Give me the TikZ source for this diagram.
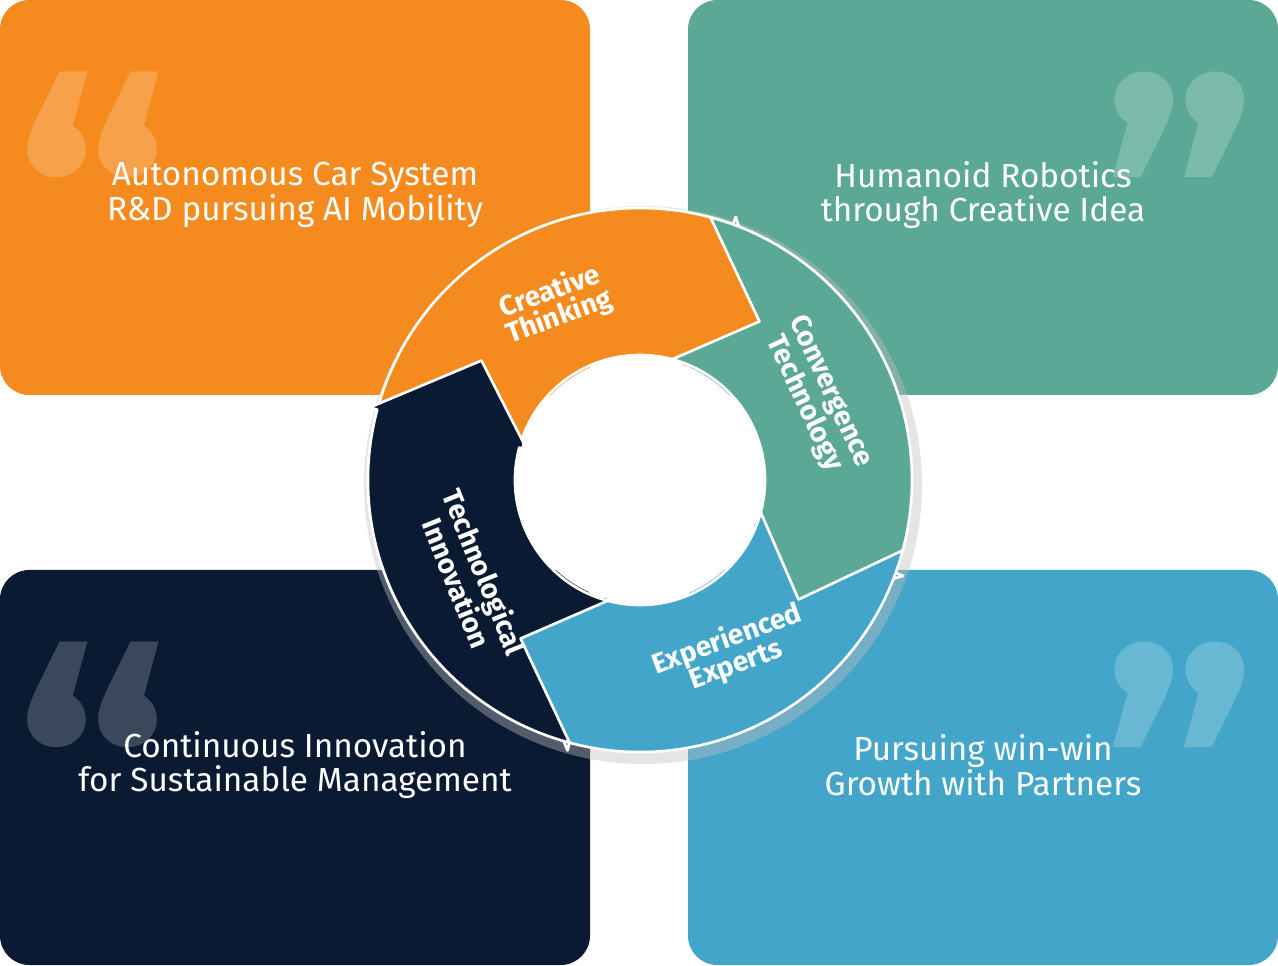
\documentclass[tikz,border=0pt]{standalone}
\usepackage{fontspec}
\setmainfont{Fira Sans}
\definecolor{corange}{HTML}{F58A1F}
\definecolor{cteal}{HTML}{5BA896}
\definecolor{cnavy}{HTML}{0B1A33}
\definecolor{cblue}{HTML}{43A5C9}
\begin{document}
\begin{tikzpicture}[x=0.75pt,y=0.75pt,
  box/.style={rounded corners=22pt},
  boxtext/.style={text=white,align=center,font=\fontsize{25}{26}\selectfont},
  segtext/.style={text=white,align=center,font=\bfseries\fontsize{21}{20}\selectfont},
  quote/.style={text=white,opacity=0.2,font=\bfseries\fontsize{260}{260}\selectfont},
  seg/.style={draw=white,line width=2pt,line join=round}]
\useasboundingbox (0,0) rectangle (1278,965);
\fill[corange,box] (0,570) rectangle (590,965);
\fill[cteal,box] (688,570) rectangle (1278,965);
\fill[cnavy,box] (0,0) rectangle (590,395);
\fill[cblue,box] (688,0) rectangle (1278,395);
\node[quote] (q1) at (92,760) {“};
\node[quote] (q2) at (1180,760) {”};
\node[quote] (q3) at (92,190) {“};
\node[quote] (q4) at (1180,190) {”};
\node[boxtext] (t1) at (295,770) {Autonomous Car System\\R\&D pursuing AI Mobility};
\node[boxtext] (t2) at (983,770) {Humanoid Robotics\\through Creative Idea};
\node[boxtext] (t3) at (295,200) {Continuous Innovation\\for Sustainable Management};
\node[boxtext] (t4) at (983,200) {Pursuing win-win\\Growth with Partners};
\begin{scope}[shift={(640,485)}]
\fill[black!25,opacity=0.4,even odd rule] (3,-5) circle (279) (0,0) circle (126);
\def\R{272}\def\r{125}\def\m{198.5}\def\d{22}
\foreach \T/\H/\col in {185/70/corange,75/-20/cteal,-15/-105/cblue,-105/-195/cnavy}{
  \pgfmathsetmacro{\Tn}{\T-\d}\pgfmathsetmacro{\Hn}{\H-\d}
  \filldraw[seg,fill=\col] (\T:\R) arc[start angle=\T,end angle=\H,radius=\R]
    -- (\H:\R+8) -- (\Hn:\m) -- (\H:\r-8) -- (\H:\r)
    arc[start angle=\H,end angle=\T,radius=\r] -- (\Tn:\m) -- cycle;
}
\fill[white] (0,0) circle (123);
\node[segtext,rotate=20] (s1) at (116:195) {Creative\\Thinking};
\node[segtext,rotate=-65] (s2) at (25:195) {Convergence\\Technology};
\node[segtext,rotate=20] (s3) at (-62:195) {Experienced\\Experts};
\node[segtext,rotate=-68] (s4) at (-150:195) {Technological\\Innovation};
\end{scope}
\end{tikzpicture}
\end{document}
